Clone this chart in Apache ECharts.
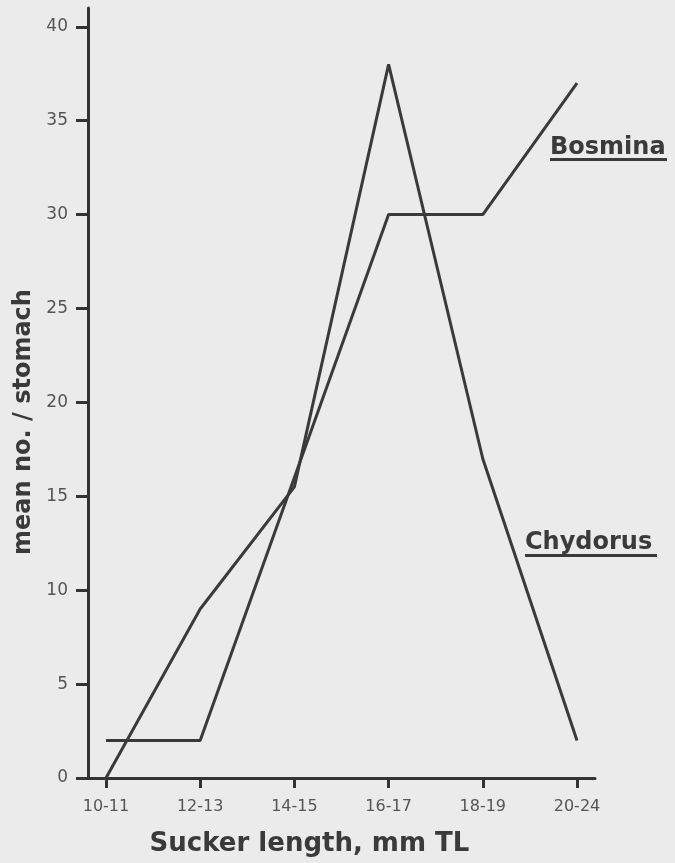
<!DOCTYPE html>
<html>
<head>
<meta charset="utf-8">
<title>Sucker length vs mean no. / stomach</title>
<script src="https://cdn.jsdelivr.net/npm/echarts@6/dist/echarts.min.js"></script>
<style>
  html, body { margin: 0; padding: 0; background: #ebebeb; }
  #chart { width: 675px; height: 863px; }
</style>
</head>
<body>
<div id="chart"></div>
<script>
// x categories (sucker length, mm TL)
const categories = ["10-11", "12-13", "14-15", "16-17", "18-19", "20-24"];
// series values
const bosmina = [2, 2, 16, 30, 30, 37];
const chydorus = [0, 9, 15.5, 38, 17, 2];
// y tick labels
const yTicks = [0, 5, 10, 15, 20, 25, 30, 35, 40];

const ink = "#3a3a3a";
const font = "DejaVu Sans";

const chart = echarts.init(document.getElementById("chart"));

// categories are placed at index positions on a value axis
const xIdx = categories.map((c, i) => i);
const toPairs = (vals) => vals.map((v, i) => [i, v]);

const option = {
  backgroundColor: "#ebebeb",
  animation: false,
  grid: { left: 78, right: 80, top: 8, bottom: 85 },
  xAxis: {
    type: "value",
    min: -0.297,
    max: 5.191,
    name: "Sucker length, mm TL",
    nameLocation: "middle",
    nameGap: 53,
    nameTextStyle: {
      fontFamily: font, fontWeight: "bold", fontSize: 26, color: ink,
      padding: [0, 54, 0, 0],
    },
    axisLine: { onZero: false, lineStyle: { color: "#333", width: 3 } },
    axisTick: {
      customValues: xIdx, length: 10, inside: false,
      lineStyle: { color: "#333", width: 3 },
    },
    axisLabel: {
      customValues: xIdx,
      margin: 21,
      fontFamily: font, fontSize: 16, color: "#555",
      formatter: (v) => categories[Math.round(v)] || "",
    },
    splitLine: { show: false },
  },
  yAxis: {
    type: "value",
    min: 0,
    max: 41,
    offset: -10,
    name: "mean no. / stomach",
    nameLocation: "middle",
    nameGap: 50,
    nameTextStyle: {
      fontFamily: font, fontWeight: "bold", fontSize: 24, color: ink,
      padding: [0, 58, 0, 0],
    },
    axisLine: { show: true, onZero: false, lineStyle: { color: "#333", width: 3 } },
    axisTick: {
      show: true, customValues: yTicks, length: 12,
      lineStyle: { color: "#333", width: 3 },
    },
    axisLabel: {
      customValues: yTicks,
      margin: 20,
      padding: [0, 0, 10, 0],
      verticalAlign: "middle",
      fontFamily: font, fontSize: 17, color: "#555",
    },
    splitLine: { show: false },
  },
  series: [
    {
      name: "Bosmina",
      type: "line",
      data: toPairs(bosmina),
      symbol: "none",
      lineStyle: { color: ink, width: 3 },
    },
    {
      name: "Chydorus",
      type: "line",
      data: toPairs(chydorus),
      symbol: "none",
      lineStyle: { color: ink, width: 3 },
    },
  ],
  // underlined series names beside the lines
  graphic: [
    {
      type: "text", left: 550, top: 136,
      style: { text: "Bosmina", font: "bold 24px 'DejaVu Sans'", fill: ink },
    },
    { type: "rect", shape: { x: 550, y: 158, width: 117, height: 3 }, style: { fill: ink } },
    {
      type: "text", left: 525, top: 531,
      style: { text: "Chydorus", font: "bold 24px 'DejaVu Sans'", fill: ink },
    },
    { type: "rect", shape: { x: 525, y: 554, width: 132, height: 3 }, style: { fill: ink } },
  ],
};

chart.setOption(option);
</script>
</body>
</html>
